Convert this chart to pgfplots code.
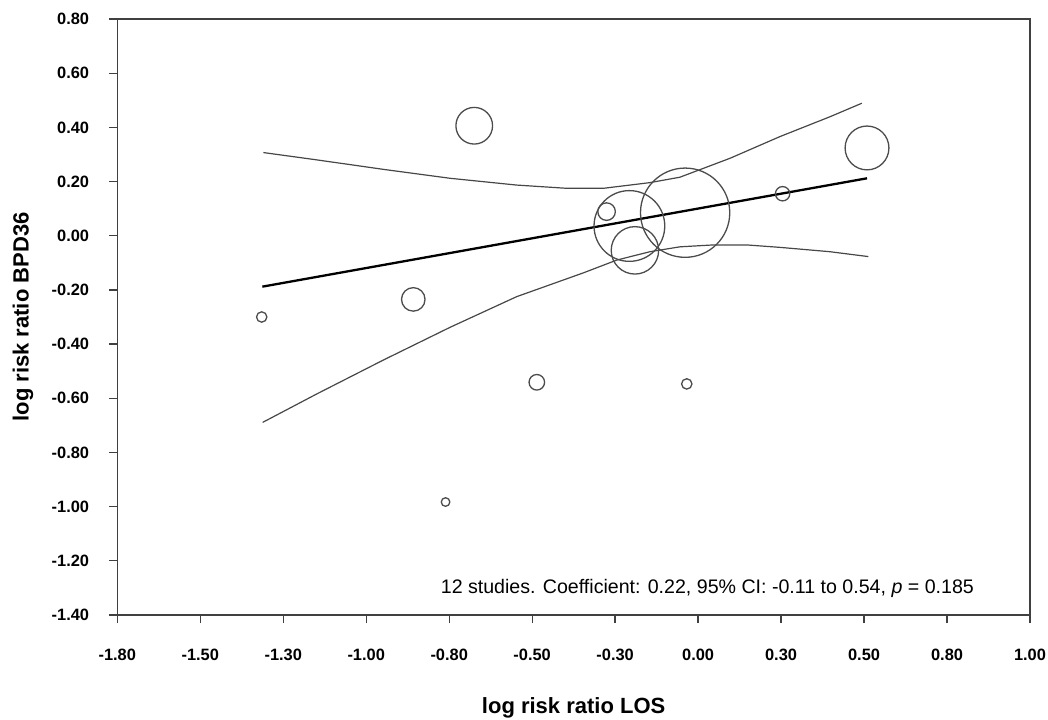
\documentclass[border=0pt]{standalone}
\usepackage{fontspec}
\setmainfont{Liberation Sans}
\usepackage{pgfplots}
\pgfplotsset{compat=1.18}
\usepackage{pgfplotstable}

\pgfplotstableread{
x y r
-1.357 -0.300 5.2
-0.892 -0.235 11.8
-0.705 0.406 18.4
-0.793 -0.983 4.3
-0.513 -0.541 7.8
-0.053 -0.547 5.2
0.500 0.324 22.0
0.241 0.155 7.2
-0.299 0.089 8.8
-0.229 0.036 35.5
-0.212 -0.054 23.8
-0.058 0.085 44.8
}\studies

\pgfplotstableread{
x y
-1.352 0.307
-1.188 0.280
-0.984 0.245
-0.779 0.212
-0.575 0.187
-0.421 0.175
-0.309 0.175
-0.166 0.196
-0.074 0.216
0.080 0.286
0.233 0.366
0.386 0.439
0.484 0.489
}\upperci

\pgfplotstableread{
x y
-1.354 -0.689
-1.188 -0.584
-0.984 -0.459
-0.779 -0.338
-0.575 -0.225
-0.370 -0.137
-0.268 -0.090
-0.166 -0.059
-0.074 -0.041
0.028 -0.034
0.131 -0.034
0.233 -0.043
0.386 -0.059
0.504 -0.077
}\lowerci

\pgfplotstableread{
x y
-1.355 -0.188
0.500 0.212
}\fitline

\begin{document}
\begin{tikzpicture}
\path[use as bounding box] (0,0) rectangle (1048bp,720bp);
\begin{axis}[
  at={(117.3bp,105bp)}, anchor=south west,
  scale only axis, width=912.7bp, height=596bp,
  xmin=-1.8, xmax=1.0, ymin=-1.4, ymax=0.8,
  xtick={-1.8,-1.545455,-1.290909,-1.036364,-0.781818,-0.527273,-0.272727,-0.018182,0.236364,0.490909,0.745455,1.0},
  xticklabels={-1.80,-1.50,-1.30,-1.00,-0.80,-0.50,-0.30,0.00,0.30,0.50,0.80,1.00},
  ytick={-1.4,-1.2,-1.0,-0.8,-0.6,-0.4,-0.2,0,0.2,0.4,0.6,0.8},
  yticklabels={-1.40,-1.20,-1.00,-0.80,-0.60,-0.40,-0.20,0.00,0.20,0.40,0.60,0.80},
  xtick pos=bottom, ytick pos=left,
  tick align=outside, major tick length=8bp,
  axis line style={draw=black!75, line width=1.3bp},
  tick style={draw=black!75, line width=1.3bp},
  ticklabel style={font=\bfseries\fontsize{16.4bp}{18bp}\selectfont, inner sep=0pt, text=black},
  xticklabel shift=26bp,
  yticklabel shift=20bp,
  xlabel={log risk ratio LOS},
  ylabel={log risk ratio BPD36},
  label style={font=\bfseries\fontsize{22bp}{24bp}\selectfont, inner sep=0pt},
  xlabel style={at={(axis description cs:0.5,0)}, anchor=base, yshift=-98bp},
  ylabel style={at={(axis description cs:-0.0971,0.5)}, anchor=base},
]
\addplot[draw=black!72, line width=1.2bp] table[x=x,y=y] {\upperci};
\addplot[draw=black!72, line width=1.2bp] table[x=x,y=y] {\lowerci};
\addplot[draw=black, line width=2.3bp] table[x=x,y=y] {\fitline};
\addplot[
  scatter, only marks, mark=o, line width=1.3bp,
  point meta=explicit, 
  scatter/use mapped color={draw=black!70},
  visualization depends on={\thisrow{r}\as\rad},
  scatter/@pre marker code/.append style={/tikz/mark size=\rad},
] table[x=x,y=y,meta=r] {\studies};
\node[anchor=base, inner sep=0pt, font=\fontsize{19.6bp}{22bp}\selectfont] at (rel axis cs:0.6465,0.0369) {12 studies. Coefficient: 0.22, 95\% CI: -0.11 to 0.54, \textit{p} = 0.185};
\end{axis}
\end{tikzpicture}
\end{document}
